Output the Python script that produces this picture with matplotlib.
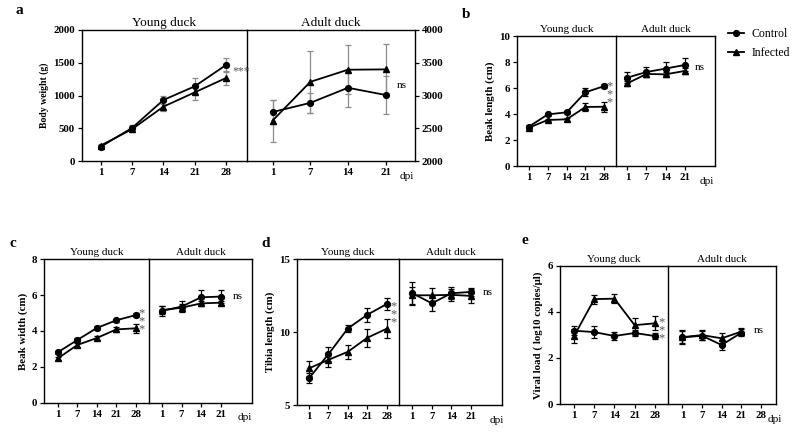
import matplotlib.pyplot as plt

plt.rcParams['font.family'] = ['Liberation Serif', 'DejaVu Serif']

# data --------------------------------------------------------------------
young_days = ['1', '7', '14', '21', '28']
adult_days = ['1', '7', '14', '21']

# a: body weight (g); adult part on right axis 2000-4000
bw_young_ctrl = [223, 508, 934, 1142, 1467]
bw_young_ctrl_err = [25, 45, 60, 120, 110]
bw_young_inf = [240, 490, 832, 1050, 1269]
bw_young_inf_err = [25, 45, 70, 110, 110]
bw_adult_ctrl = [2750, 2890, 3120, 3010]
bw_adult_ctrl_err = [180, 150, 290, 290]
bw_adult_inf = [2620, 3210, 3395, 3400]
bw_adult_inf_err = [320, 470, 370, 380]

# b: beak length (cm)
bl_young_ctrl = [3.03, 3.97, 4.13, 5.67, 6.15]
bl_young_ctrl_err = [0.1, 0.1, 0.1, 0.3, 0.15]
bl_young_inf = [2.95, 3.54, 3.59, 4.54, 4.56]
bl_young_inf_err = [0.1, 0.1, 0.1, 0.3, 0.4]
bl_adult_ctrl = [6.8, 7.23, 7.49, 7.77]
bl_adult_ctrl_err = [0.4, 0.4, 0.5, 0.5]
bl_adult_inf = [6.36, 7.08, 7.05, 7.31]
bl_adult_inf_err = [0.2, 0.2, 0.2, 0.2]

# c: beak width (cm)
bwd_young_ctrl = [2.81, 3.5, 4.17, 4.6, 4.89]
bwd_young_ctrl_err = [0.1, 0.12, 0.12, 0.08, 0.1]
bwd_young_inf = [2.47, 3.22, 3.61, 4.09, 4.15]
bwd_young_inf_err = [0.08, 0.1, 0.12, 0.12, 0.25]
bwd_adult_ctrl = [5.12, 5.36, 5.88, 5.92]
bwd_adult_ctrl_err = [0.3, 0.3, 0.4, 0.35]
bwd_adult_inf = [5.17, 5.3, 5.54, 5.58]
bwd_adult_inf_err = [0.2, 0.2, 0.12, 0.12]

# d: tibia length (cm)
tl_young_ctrl = [6.84, 8.49, 10.25, 11.19, 11.92]
tl_young_ctrl_err = [0.35, 0.5, 0.25, 0.5, 0.4]
tl_young_inf = [7.52, 8.1, 8.65, 9.61, 10.23]
tl_young_inf_err = [0.5, 0.5, 0.5, 0.6, 0.65]
tl_adult_ctrl = [12.67, 11.98, 12.67, 12.76]
tl_adult_ctrl_err = [0.8, 0.5, 0.4, 0.3]
tl_adult_inf = [12.53, 12.53, 12.56, 12.49]
tl_adult_inf_err = [0.6, 0.5, 0.4, 0.5]

# e: viral load (log10 copies/ul)
vl_young_ctrl = [3.18, 3.12, 2.95, 3.08, 2.95]
vl_young_ctrl_err = [0.2, 0.25, 0.18, 0.15, 0.12]
vl_young_inf = [2.95, 4.55, 4.57, 3.42, 3.5]
vl_young_inf_err = [0.3, 0.2, 0.2, 0.3, 0.3]
vl_adult_ctrl = [2.89, 2.96, 2.56, 3.09]
vl_adult_ctrl_err = [0.3, 0.2, 0.2, 0.15]
vl_adult_inf = [2.9, 2.99, 2.85, 3.14]
vl_adult_inf_err = [0.25, 0.2, 0.25, 0.15]

W, H = 800, 440
fig = plt.figure(figsize=(8, 4.4), dpi=100)


def box(x0, y0, x1, y1):
    # pixel box (top-left origin) -> figure fraction
    return [x0 / W, 1 - y1 / H, (x1 - x0) / W, (y1 - y0) / H]


def bold_ticks(ax):
    for lab in ax.get_xticklabels() + ax.get_yticklabels():
        lab.set_fontweight('bold')


def series(ax, y, err, marker, ecolor, ms):
    x = list(range(len(y)))
    ax.errorbar(x, y, yerr=err, color='black', marker=marker, ms=ms, lw=1.3,
                ecolor=ecolor, elinewidth=0.9, capsize=2.5, capthick=0.9)


def panel(letter, ybox, abox, young_xlim, adult_xlim, ylim, yticks, ylabel,
          young, adult, adult_ticks, ecolor='black', star=None, ns=None,
          dpi_x=0.94, right_ylim=None, right_yticks=None, title_size=8,
          letter_pos=None, ylabel_size=7.8):
    ay = fig.add_axes(box(*ybox))
    aa = fig.add_axes(box(*abox))
    aa.patch.set_visible(False)
    for ax in (ay, aa):
        for s in ax.spines.values():
            s.set_linewidth(1.0)
        ax.tick_params(labelsize=7.8, width=0.9, length=3, pad=2)
    ay.set_xlim(young_xlim)
    aa.set_xlim(adult_xlim)
    ay.set_ylim(ylim)
    ay.set_yticks(yticks)
    ay.set_xticks(range(len(young_days)), young_days)
    aa.set_xticks(range(len(adult_ticks)), adult_ticks)
    aa.spines['left'].set_visible(False)
    if right_ylim is None:
        aa.set_ylim(ylim)
        aa.set_yticks([])
    else:
        aa.set_ylim(right_ylim)
        aa.set_yticks(right_yticks)
        aa.yaxis.tick_right()
    ay.set_ylabel(ylabel, fontsize=ylabel_size, fontweight='bold', labelpad=3)

    series(ay, young[0], young[1], 'o', ecolor, 4.2)
    series(ay, young[2], young[3], '^', ecolor, 4.5)
    series(aa, adult[0], adult[1], 'o', ecolor, 4.2)
    series(aa, adult[2], adult[3], '^', ecolor, 4.5)

    ay.set_title('Young duck', fontsize=title_size, pad=3)
    aa.set_title('Adult duck', fontsize=title_size, pad=3)
    aa.annotate('dpi', xy=(dpi_x, 0), xycoords='axes fraction',
                xytext=(0, -11), textcoords='offset points',
                ha='center', va='center', fontsize=8)
    if star is not None:
        if star[2]:
            ay.text(star[0], star[1], '*\n*\n*', color='#555555', fontsize=9,
                    ha='center', va='center', linespacing=0.55)
        else:
            ay.text(star[0], star[1], '***', color='#555555', fontsize=8.5,
                    ha='left', va='center')
    if ns is not None:
        aa.text(ns[0], ns[1], 'ns', fontsize=8, ha='left', va='center')
    bold_ticks(ay)
    bold_ticks(aa)
    lx, ly = letter_pos
    fig.text(lx / W, 1 - ly / H, letter, fontsize=11, fontweight='bold',
             ha='left', va='center')
    return ay


# a
panel('a', (82, 30, 247, 161.3), (247, 30, 415, 161.3), (-0.6, 4.67),
      (-0.68, 3.78), (0, 2000), [0, 500, 1000, 1500, 2000], 'Body weight (g)',
      (bw_young_ctrl, bw_young_ctrl_err, bw_young_inf, bw_young_inf_err),
      (bw_adult_ctrl, bw_adult_ctrl_err, bw_adult_inf, bw_adult_inf_err),
      adult_days, ecolor='#8c8c8c', star=(4.2, 1370, False), ns=(3.3, 3160),
      dpi_x=0.95, right_ylim=(2000, 4000),
      right_yticks=[2000, 2500, 3000, 3500, 4000], title_size=9.5,
      letter_pos=(16, 10), ylabel_size=7)

# b
ay_b = panel('b', (517.3, 36, 616, 166), (616, 36, 715, 166), (-0.62, 4.62),
             (-0.6, 4.6), (0, 10), [0, 2, 4, 6, 8, 10], 'Beak length (cm)',
             (bl_young_ctrl, bl_young_ctrl_err, bl_young_inf, bl_young_inf_err),
             (bl_adult_ctrl, bl_adult_ctrl_err, bl_adult_inf, bl_adult_inf_err),
             adult_days, star=(4.28, 5.5, True), ns=(3.55, 7.6), dpi_x=0.92,
             letter_pos=(462, 14))

# c
panel('c', (44.3, 259.3, 149, 402.7), (149, 259.3, 252, 402.7), (-0.69, 4.67),
      (-0.66, 4.6), (0, 8), [0, 2, 4, 6, 8], 'Beak width (cm)',
      (bwd_young_ctrl, bwd_young_ctrl_err, bwd_young_inf, bwd_young_inf_err),
      (bwd_adult_ctrl, bwd_adult_ctrl_err, bwd_adult_inf, bwd_adult_inf_err),
      adult_days, star=(4.3, 4.55, True), ns=(3.6, 5.95), dpi_x=0.93,
      letter_pos=(9, 243))

# d
panel('d', (296.7, 259.3, 399.3, 405), (399.3, 259.3, 502, 405), (-0.64, 4.66),
      (-0.67, 4.6), (5, 15), [5, 10, 15], 'Tibia length (cm)',
      (tl_young_ctrl, tl_young_ctrl_err, tl_young_inf, tl_young_inf_err),
      (tl_adult_ctrl, tl_adult_ctrl_err, tl_adult_inf, tl_adult_inf_err),
      adult_days, star=(4.37, 11.2, True), ns=(3.6, 12.75), dpi_x=0.95,
      letter_pos=(261, 243))

# e
panel('e', (560, 265.7, 667.7, 404), (667.7, 265.7, 776, 404), (-0.7, 4.64),
      (-0.75, 4.77), (0, 6), [0, 2, 4, 6], 'Viral load ( log10 copies/μl)',
      (vl_young_ctrl, vl_young_ctrl_err, vl_young_inf, vl_young_inf_err),
      (vl_adult_ctrl, vl_adult_ctrl_err, vl_adult_inf, vl_adult_inf_err),
      young_days, star=(4.33, 3.2, True), ns=(3.65, 3.18), dpi_x=0.985,
      letter_pos=(522, 240))

# legend
h_ctrl, = ay_b.plot([], [], color='black', marker='o', ms=4.2, lw=1.3)
h_inf, = ay_b.plot([], [], color='black', marker='^', ms=4.5, lw=1.3)
fig.legend([h_ctrl, h_inf], ['Control', 'Infected'], loc='upper left',
           bbox_to_anchor=(722 / W, 1 - 22 / H), frameon=False, fontsize=8.5,
           handlelength=1.4, handletextpad=0.6, labelspacing=0.6,
           borderpad=0)

fig.savefig('out.png', dpi=100)
